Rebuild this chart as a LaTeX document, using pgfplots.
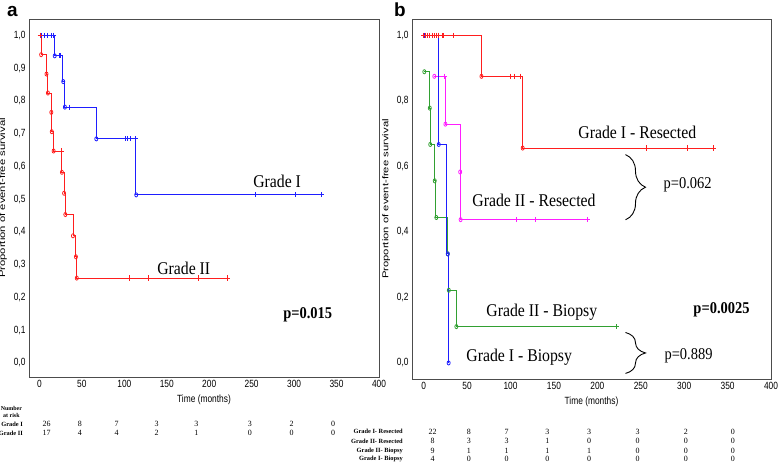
\documentclass[border=0pt]{standalone}
\usepackage{pgfplots}
\pgfplotsset{compat=1.18}
\usepackage{fontspec}
\usetikzlibrary{decorations.pathreplacing}
\setmainfont{Liberation Serif}
\newfontfamily\serifn[FakeStretch=0.88]{Liberation Serif}
\newfontfamily\sansn[FakeStretch=0.8]{Liberation Sans}
\newfontfamily\sansw[FakeStretch=1.33]{Liberation Sans}
\newfontfamily\sansp{Liberation Sans}
\definecolor{kmred}{RGB}{255,30,30}
\definecolor{kmblue}{RGB}{30,30,255}
\definecolor{kmmag}{RGB}{255,30,255}
\definecolor{kmgreen}{RGB}{50,160,50}
\newcommand{\lbl}{\serifn\fontsize{18}{20}\selectfont}
\newcommand{\pv}{\serifn\fontsize{16.5}{18}\selectfont}
\newcommand{\rl}{\bfseries\fontsize{6.4}{7}\selectfont}
\newcommand{\rn}{\fontsize{8}{9}\selectfont}
\pgfplotsset{
  kmaxis/.style={
    scale only axis, clip=false,
    axis line style={draw=black!70, line width=0.8pt},
    major tick length=0pt, tick style={draw=none},
    /pgf/number format/assume math mode=true,
    ticklabel style={font=\sansn\fontsize{10.5}{12}\selectfont},
    y tick label style={/pgf/number format/.cd, fixed, fixed zerofill, precision=1, use comma},
    xtick={0,50,...,400}, xmax=400,
    xlabel={Time (months)}, ylabel={Proportion of event-free survival},
    xlabel style={font=\sansn\fontsize{10.5}{12}\selectfont},
    ylabel style={font=\sansw\fontsize{8.5}{10}\selectfont},
  },
  km/.style={const plot, no marks, line width=0.9pt, color=#1},
  ev/.style={only marks, mark=o, mark size=1.8pt, color=#1, mark options={line width=0.8pt, xscale=0.85, yscale=1.15}},
  ce/.style={only marks, mark=+, mark size=2.6pt, color=#1, mark options={line width=0.9pt}},
  risk/.style={only marks, mark=none, point meta=explicit symbolic, nodes near coords,
    nodes near coords style={anchor=center, font=\rn, text=black, inner sep=0pt}},
}
\begin{document}
\begin{tikzpicture}
\useasboundingbox (0,0) rectangle (778bp,-467bp);
\node[anchor=base west, font=\sansp\bfseries\fontsize{19}{20}\selectfont, inner sep=0] at (7bp,-16.5bp) {a};
\node[anchor=base west, font=\sansp\bfseries\fontsize{19}{20}\selectfont, inner sep=0] at (394bp,-16.5bp) {b};
% ---------------- panel a
\begin{axis}[kmaxis, at={(29bp,-377bp)}, anchor=south west, width=350bp, height=358bp,
  xmin=-12.3, ymin=-0.043, ymax=1.050, ytick={0,0.1,...,1.0}]
\addplot[km=kmblue] coordinates {(0,1) (17.5,0.9375) (27.5,0.859) (29.5,0.781) (67,0.684) (113.5,0.513) (332,0.513)};
\addplot[ev=kmblue] coordinates {(18,0.9375) (28,0.859) (30,0.781) (67,0.684) (114,0.513)};
\addplot[ce=kmblue] coordinates {(2,1) (6,1) (10,1) (14,1) (16,1) (23,0.9375) (25,0.9375) (35,0.781) (101,0.684) (104,0.684) (107.5,0.684) (113,0.684) (254,0.513) (301,0.513) (332,0.513)};
\addplot[km=kmred] coordinates {(0,1) (2,0.941) (8.3,0.882) (10,0.824) (14,0.765) (14.5,0.706) (16.7,0.647) (26.5,0.582) (29,0.518) (30.5,0.453) (39.5,0.388) (43,0.324) (44,0.259) (221,0.259)};
\addplot[ev=kmred] coordinates {(2,0.941) (8.3,0.882) (10,0.824) (14,0.765) (14.5,0.706) (16.7,0.647) (26.5,0.582) (29,0.518) (30.5,0.453) (39.5,0.388) (43,0.324) (44,0.259)};
\addplot[ce=kmred] coordinates {(1,1) (25.7,0.647) (106,0.259) (128,0.259) (187,0.259) (221,0.259)};
\node[font=\lbl] at (axis cs:280,0.553) {Grade I};
\node[font=\lbl] at (axis cs:170,0.29) {Grade II};
\node[font=\pv\bfseries] at (axis cs:316,0.147) {p=0.015};
% number at risk
\node[font=\bfseries\fontsize{6}{7}\selectfont, inner sep=0] at (axis cs:-33,-0.140) {Number};
\node[font=\bfseries\fontsize{6}{7}\selectfont, inner sep=0] at (axis cs:-33,-0.159) {at risk};
\node[font=\rl, anchor=east, inner sep=0] at (axis cs:-19.4,-0.186) {Grade I};
\node[font=\rl, anchor=east, inner sep=0] at (axis cs:-19.4,-0.214) {Grade II};
\addplot[risk] coordinates {(8.5,-0.186) [26] (47.6,-0.186) [8] (91,-0.186) [7] (138,-0.186) [3] (185,-0.186) [3] (248,-0.186) [3] (297,-0.186) [2] (346,-0.186) [0]};
\addplot[risk] coordinates {(8.5,-0.214) [17] (47.6,-0.214) [4] (91,-0.214) [4] (138,-0.214) [2] (185,-0.214) [1] (248,-0.214) [0] (297,-0.214) [0] (346,-0.214) [0]};
\end{axis}
% ---------------- panel b
\begin{axis}[kmaxis, at={(412bp,-379bp)}, anchor=south west, width=359bp, height=360bp,
  xmin=-13.5, ymin=-0.049, ymax=1.050, ytick={0,0.2,...,1.0}]
% Grade II - Biopsy
\addplot[km=kmgreen] coordinates {(0.7,0.889) (6.5,0.778) (7.5,0.667) (12.7,0.556) (14,0.444) (27.7,0.333) (28.9,0.222) (37.6,0.111) (222,0.111)};
\addplot[ev=kmgreen] coordinates {(0.7,0.889) (7,0.778) (7.5,0.667) (12.7,0.556) (14.5,0.444) (27.7,0.333) (28.9,0.222) (37.6,0.111)};
\addplot[ce=kmgreen] coordinates {(222,0.111)};
% Grade II - Resected
\addplot[km=kmmag] coordinates {(12.2,0.875) (25,0.729) (42,0.583) (42.5,0.4375) (189,0.4375)};
\addplot[ev=kmmag] coordinates {(12.2,0.875) (25,0.729) (42,0.583) (42.5,0.4375)};
\addplot[ce=kmmag] coordinates {(23.8,0.875) (107,0.4375) (129,0.4375) (189,0.4375)};
% Grade I - Biopsy
\addplot[km=kmblue] coordinates {(0,1) (16.5,0.667) (26,0.333) (28.7,0)};
\addplot[ev=kmblue] coordinates {(17.3,0.667) (27.7,0.333) (28.7,0)};
\addplot[ce=kmblue] coordinates {(1,1)};
% Grade I - Resected
\addplot[km=kmred] coordinates {(0,1) (66.5,0.875) (114,0.656) (334,0.656)};
\addplot[ev=kmred] coordinates {(66.5,0.875) (114,0.656)};
\addplot[ce=kmred] coordinates {(0,1) (2,1) (4,1) (7,1) (9.5,1) (12,1) (14.5,1) (16.5,1) (21,1) (23,1) (34.6,1) (99.7,0.875) (104.3,0.875) (111.2,0.875) (256,0.656) (304,0.656) (334,0.656)};
\node[font=\lbl] at (axis cs:246,0.704) {Grade I - Resected};
\node[font=\lbl] at (axis cs:127,0.496) {Grade II - Resected};
\node[font=\lbl] at (axis cs:136,0.155) {Grade II - Biopsy};
\node[font=\lbl] at (axis cs:110,0.019) {Grade I - Biopsy};
\node[font=\pv\bfseries] at (axis cs:343,0.162) {p=0.0025};
\node[font=\pv] at (axis cs:304,0.544) {p=0.062};
\node[font=\pv] at (axis cs:305,0.022) {p=0.889};
\draw[line width=0.9pt, decorate, decoration={brace, amplitude=20bp}] (axis cs:232.4,0.636) -- (axis cs:232.4,0.437);
\draw[line width=0.9pt, decorate, decoration={brace, amplitude=20bp}] (axis cs:232.4,0.093) -- (axis cs:232.4,-0.032);
% number at risk
\node[font=\rl, anchor=east, inner sep=0] at (axis cs:-23.9,-0.209) {Grade I- Resected};
\node[font=\rl, anchor=east, inner sep=0] at (axis cs:-23.9,-0.238) {Grade II- Resected};
\node[font=\rl, anchor=east, inner sep=0] at (axis cs:-23.9,-0.269) {Grade II- Biopsy};
\node[font=\rl, anchor=east, inner sep=0] at (axis cs:-23.9,-0.294) {Grade I- Biopsy};
\addplot[risk] coordinates {(10.2,-0.209) [22] (52,-0.209) [8] (95.4,-0.209) [7] (142.4,-0.209) [3] (190.5,-0.209) [3] (246.3,-0.209) [3] (302,-0.209) [2] (356,-0.209) [0]};
\addplot[risk] coordinates {(10.2,-0.238) [8] (52,-0.238) [3] (95.4,-0.238) [3] (142.4,-0.238) [1] (190.5,-0.238) [0] (246.3,-0.238) [0] (302,-0.238) [0] (356,-0.238) [0]};
\addplot[risk] coordinates {(10.2,-0.269) [9] (52,-0.269) [1] (95.4,-0.269) [1] (142.4,-0.269) [1] (190.5,-0.269) [1] (246.3,-0.269) [0] (302,-0.269) [0] (356,-0.269) [0]};
\addplot[risk] coordinates {(10.2,-0.294) [4] (52,-0.294) [0] (95.4,-0.294) [0] (142.4,-0.294) [0] (190.5,-0.294) [0] (246.3,-0.294) [0] (302,-0.294) [0] (356,-0.294) [0]};
\end{axis}
\end{tikzpicture}
\end{document}
